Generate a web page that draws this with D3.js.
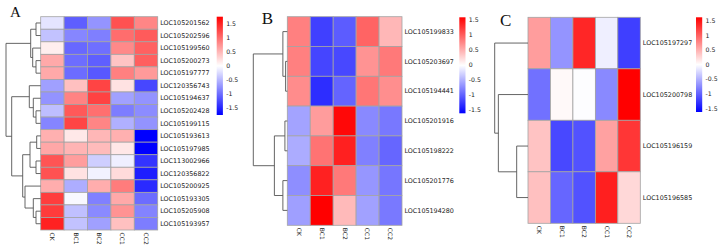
<!DOCTYPE html>
<html>
<head>
<meta charset="utf-8">
<script src="https://cdn.jsdelivr.net/npm/d3@7"></script>
<style>
  body { margin: 0; background: #fff; }
  svg { display: block; }
  text { font-family: "DejaVu Sans", sans-serif; fill: #1a1a1a; }
</style>
</head>
<body>
<svg id="chart" width="720" height="249"></svg>
<script>
const samples = ["CK", "BC1", "BC2", "CC1", "CC2"];
const legendTicks = [-1.5, -1, -0.5, 0, 0.5, 1, 1.5];

// panel A (row z-scores)
const genesA = ["LOC105201562", "LOC105202596", "LOC105199560", "LOC105200273", "LOC105197777",
  "LOC120356743", "LOC105194637", "LOC105202428", "LOC105199115", "LOC105193613", "LOC105197985",
  "LOC113002966", "LOC120356822", "LOC105200925", "LOC105193305", "LOC105205908", "LOC105193957"];
const valuesA = [
  [-0.19, -1.12, -0.74, 1.21, 0.84],
  [-0.42, -0.84, -0.89, 1.01, 1.14],
  [0.12, -1.05, -1.0, 0.82, 1.10],
  [0.60, -1.01, -1.11, 0.41, 1.11],
  [0.60, -1.02, -1.16, 0.88, 0.70],
  [-0.66, 0.44, 1.30, 0.20, -1.28],
  [-0.75, 0.86, 1.31, -0.65, -0.75],
  [-0.45, 1.15, 1.0, -0.9, -0.8],
  [-0.85, 1.3, 0.85, -0.55, -0.75],
  [0.55, 0.16, 0.50, 0.55, -1.77],
  [0.61, 0.52, 0.47, 0.17, -1.77],
  [1.19, 0.68, -0.34, -0.11, -1.41],
  [1.20, 0.20, -0.09, 0.25, -1.56],
  [0.57, -0.57, 0.57, 0.91, -1.48],
  [1.35, -0.05, -0.88, 0.60, -1.02],
  [1.36, -0.44, -0.81, 0.75, -0.86],
  [1.54, -0.42, -0.66, 0.44, -0.90]
];
// merges: [child, child, height]; index >= genes.length means an earlier merge
const mergesA = [
  [0, 1, 4.7], [3, 4, 4.7], [2, 18, 8], [17, 19, 10],
  [7, 8, 4.7], [6, 21, 7.4], [5, 22, 11.4],
  [9, 10, 4], [11, 12, 4.7], [24, 25, 10.7],
  [15, 16, 4.7], [14, 27, 7.4], [13, 28, 15.7], [26, 29, 18],
  [23, 30, 29], [20, 31, 34.7]
];

// panel B
const genesB = ["LOC105199833", "LOC105203697", "LOC105194441", "LOC105201916",
  "LOC105198222", "LOC105201776", "LOC105194280"];
const valuesB = [
  [0.8, -1.2, -1.02, 0.97, 0.45],
  [0.8, -1.17, -1.15, 0.68, 0.84],
  [0.72, -1.32, -0.97, 0.86, 0.71],
  [-0.58, 0.62, 1.55, -0.74, -0.85],
  [-0.52, 0.88, 1.4, -0.8, -0.96],
  [-0.71, 1.39, 0.84, -0.66, -0.86],
  [-0.6, 1.6, 0.43, -0.59, -0.84]
];
const mergesB = [[1, 2, 0.05], [0, 7, 0.13], [3, 4, 0.07], [5, 6, 0.13], [9, 10, 0.38], [8, 11, 1]];

// panel C
const genesC = ["LOC105197297", "LOC105200798", "LOC105196159", "LOC105196585"];
const valuesC = [
  [0.62, -0.68, 1.38, -0.1, -1.22],
  [-0.9, 0.04, -0.01, -0.75, 1.62],
  [0.38, -1.16, -1.1, 0.6, 1.28],
  [0.4, -0.97, -1.1, 1.42, 0.25]
];
const mergesC = [[2, 3, 0.34], [1, 4, 0.89], [0, 5, 1]];

const svg = d3.select("#chart");
const defs = svg.append("defs");

function drawPanel(p) {
  const g = svg.append("g");
  const x = d3.scaleBand().domain(samples).range([p.left, p.right]);
  const y = d3.scaleBand().domain(p.genes).range([p.top, p.bottom]);
  const m = d3.max(p.values.flat(), v => Math.abs(v));
  const color = d3.scaleLinear().domain([-m, 0, m]).range(["#0000ff", "#ffffff", "#ff0000"]);

  // cells
  p.genes.forEach((gene, i) => {
    g.selectAll(null)
      .data(p.values[i])
      .enter()
      .append("rect")
      .attr("x", (d, j) => x(samples[j]))
      .attr("y", y(gene))
      .attr("width", x.bandwidth())
      .attr("height", y.bandwidth())
      .attr("fill", d => color(d))
      .attr("stroke", "#a3a3a3")
      .attr("stroke-width", 0.8);
  });

  // row labels
  g.selectAll(null)
    .data(p.genes)
    .enter()
    .append("text")
    .attr("x", p.right + 2.5)
    .attr("y", d => y(d) + y.bandwidth() / 2)
    .attr("dy", "0.35em")
    .style("font-size", "6.4px")
    .text(d => d);

  // column labels, rotated
  g.selectAll(null)
    .data(samples)
    .enter()
    .append("text")
    .attr("transform", d => `translate(${x(d) + x.bandwidth() / 2},${p.bottom + 2.5}) rotate(90)`)
    .attr("dy", "0.35em")
    .style("font-size", "6px")
    .text(d => d);

  // dendrogram
  const h = d3.scaleLinear()
    .domain([0, d3.max(p.merges, d => d[2])])
    .range([p.left, p.dendroLeft]);
  const nodes = p.genes.map(gene => ({ x: p.left, y: y(gene) + y.bandwidth() / 2 }));
  p.merges.forEach(([a, b, ht]) => {
    const na = nodes[a], nb = nodes[b], mx = h(ht);
    g.append("path")
      .attr("d", `M${na.x},${na.y}H${mx}V${nb.y}H${nb.x}`)
      .attr("fill", "none")
      .attr("stroke", "#555")
      .attr("stroke-width", 0.9);
    nodes.push({ x: mx, y: (na.y + nb.y) / 2 });
  });

  // colour legend
  const grad = defs.append("linearGradient")
    .attr("id", "grad" + p.name)
    .attr("x1", 0).attr("y1", 0).attr("x2", 0).attr("y2", 1);
  [[0, m], [0.5, 0], [1, -m]].forEach(([o, v]) => {
    grad.append("stop").attr("offset", o).attr("stop-color", color(v));
  });
  g.append("rect")
    .attr("x", p.legX)
    .attr("y", p.legTop)
    .attr("width", 6.2)
    .attr("height", p.legBottom - p.legTop)
    .attr("fill", `url(#grad${p.name})`);
  const ly = d3.scaleLinear().domain([-m, m]).range([p.legBottom, p.legTop]);
  g.selectAll(null)
    .data(legendTicks.filter(t => Math.abs(t) <= m))
    .enter()
    .append("text")
    .attr("x", p.legX + 9.5)
    .attr("y", d => ly(d))
    .attr("dy", "0.35em")
    .style("font-size", "6.2px")
    .text(d => d);

  // panel letter
  g.append("text")
    .attr("x", p.letterX)
    .attr("y", p.letterY)
    .style("font-family", "'Liberation Serif', 'DejaVu Serif', serif")
    .style("font-size", p.letterSize + "px")
    .style("fill", "#111")
    .text(p.name);
}

drawPanel({ name: "A", genes: genesA, values: valuesA, merges: mergesA,
  left: 40.7, right: 157.7, top: 16.7, bottom: 230, dendroLeft: 6,
  legX: 216.7, legTop: 16.7, legBottom: 115, letterX: 10, letterY: 17, letterSize: 15 });
drawPanel({ name: "B", genes: genesB, values: valuesB, merges: mergesB,
  left: 287.3, right: 402, top: 16.7, bottom: 225.3, dendroLeft: 253.3,
  legX: 459.3, legTop: 17.3, legBottom: 113.3, letterX: 261.7, letterY: 23.5, letterSize: 17 });
drawPanel({ name: "C", genes: genesC, values: valuesC, merges: mergesC,
  left: 528, right: 640.3, top: 17.3, bottom: 223.3, dendroLeft: 494.7,
  legX: 696, legTop: 17.3, legBottom: 112, letterX: 500, letterY: 26, letterSize: 17 });
</script>
</body>
</html>
